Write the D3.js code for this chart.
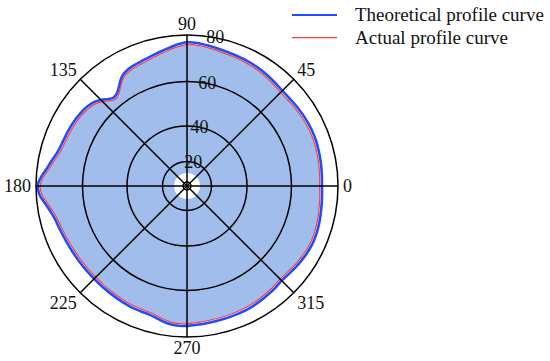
<!DOCTYPE html>
<html>
<head>
<meta charset="utf-8">
<title>Profile curve</title>
<script src="https://d3js.org/d3.v7.min.js"></script>
<style>
  body {margin: 0; background: #fff;}
  svg text {font-family: "Times New Roman", "Liberation Serif", serif; fill: #111;}
</style>
</head>
<body>
<script>
var angleTicks = [0, 45, 90, 135, 180, 225, 270, 315];
var radiusTicks = [20, 40, 60, 80];
var seriesNames = ["Theoretical profile curve", "Actual profile curve"];

// polar angle in degrees (counter-clockwise from 0 on the right)
var angles = [0, 5, 10, 15, 20, 25, 30, 35, 40, 45, 50, 55, 60, 65, 70, 75, 80, 85, 90, 95, 100, 105, 110, 115, 120,
  122, 124, 126, 128, 130, 132,
  135, 138, 142, 146, 150, 155, 160, 165, 170,
  173, 176, 178, 180, 182, 184, 186, 188, 191, 194, 199,
  205, 210, 215, 220, 225, 230, 235, 240, 245, 250,
  254, 257, 260, 264, 268, 270,
  275, 280, 285, 290, 295, 300, 305, 310, 315, 320, 325, 330, 335, 340, 345, 350, 355];

var theoretical = [73.10, 73.25, 73.48, 73.70, 73.88, 73.85, 73.65, 73.35, 73.05, 73.00, 73.45, 74.00, 74.45, 74.80, 75.04, 75.43, 76.00, 76.61, 76.87, 75.74, 74.26, 73.13, 72.17, 71.57, 70.22,
  68.87, 67.17, 65.65, 64.70, 64.52, 65.43,
  67.39, 68.96, 70.00, 70.61, 71.04, 71.39, 71.74, 72.52, 74.52,
  75.87, 77.65, 78.70, 79.26, 78.96, 78.35, 77.17, 76.00, 74.61, 73.61, 72.78,
  72.17, 71.83, 71.65, 71.52, 71.52, 71.65, 71.83, 72.09, 72.39, 72.52,
  72.70, 73.39, 74.22, 75.09, 75.30, 75.22,
  74.87, 74.52, 74.35, 74.26, 74.17, 73.91, 73.48, 73.13, 72.60, 73.00, 73.60, 74.10, 74.45, 74.40, 74.05, 73.65, 73.35];

var actual = [72.12, 72.27, 72.52, 72.74, 72.92, 72.90, 72.70, 72.40, 72.09, 72.04, 72.48, 73.04, 73.49, 73.84, 74.08, 74.47, 75.03, 75.64, 75.90, 74.78, 73.30, 72.17, 71.21, 70.60, 69.25,
  67.90, 66.20, 64.68, 63.74, 63.56, 64.47,
  66.42, 67.99, 69.03, 69.65, 70.08, 70.43, 70.78, 71.55, 73.55,
  74.90, 76.68, 77.73, 78.30, 77.99, 77.38, 76.20, 75.04, 73.65, 72.65, 71.82,
  71.21, 70.87, 70.69, 70.56, 70.56, 70.69, 70.87, 71.13, 71.43, 71.56,
  71.74, 72.43, 73.26, 74.13, 74.34, 74.27,
  73.91, 73.56, 73.39, 73.30, 73.21, 72.95, 72.52, 72.17, 71.64, 72.04, 72.64, 73.14, 73.49, 73.44, 73.09, 72.69, 72.39];

var width = 550, height = 361, cx = 187, cy = 186;

var svg = d3.select("body").append("svg")
    .attr("width", width)
    .attr("height", height);

var g = svg.append("g").attr("transform", "translate(" + cx + "," + cy + ")");

// radial scale (grid rings are not evenly spaced in the original)
var r = d3.scaleLinear().domain([0, 20, 40, 60, 80]).range([4, 24.5, 60, 104.5, 151]);
// d3 radial angle: 0 at top, clockwise
var a = d3.scaleLinear().domain([0, 360]).range([Math.PI / 2, Math.PI / 2 - 2 * Math.PI]);

var theoData = angles.map(function(d, i) { return {a: d, v: theoretical[i]}; });
var actData = angles.map(function(d, i) { return {a: d, v: actual[i]}; });

var line = d3.lineRadial()
    .angle(function(d) { return a(d.a); })
    .radius(function(d) { return r(d.v); })
    .curve(d3.curveCatmullRomClosed);

// filled area
g.append("path")
    .attr("d", line(actData))
    .attr("fill", "#a0bdeb")
    .attr("stroke", "none");

// white hole in the middle
g.append("circle").attr("r", 13).attr("fill", "#fff");

// curves
g.append("path")
    .attr("d", line(theoData))
    .attr("fill", "none")
    .attr("stroke", "#1f4cff")
    .attr("stroke-width", 2.6);

g.append("path")
    .attr("d", line(actData))
    .attr("fill", "none")
    .attr("stroke", "#ff3b3b")
    .attr("stroke-width", 1.2);

// grid circles
g.selectAll(".ring")
    .data([0].concat(radiusTicks))
    .enter().append("circle")
    .attr("class", "ring")
    .attr("r", function(d) { return r(d); })
    .attr("fill", "none")
    .attr("stroke", "#000")
    .attr("stroke-width", 1.5);

// spokes
g.selectAll(".spoke")
    .data(angleTicks)
    .enter().append("line")
    .attr("class", "spoke")
    .attr("x1", 0).attr("y1", 0)
    .attr("x2", function(d) { return r(80) * Math.sin(a(d)); })
    .attr("y2", function(d) { return -r(80) * Math.cos(a(d)); })
    .attr("stroke", "#000")
    .attr("stroke-width", 1.5);

// angle labels
var lr = r(80) + 5;
g.selectAll(".alabel")
    .data(angleTicks)
    .enter().append("text")
    .attr("class", "alabel")
    .attr("x", function(d) { return lr * Math.sin(a(d)); })
    .attr("y", function(d) { return -lr * Math.cos(a(d)); })
    .attr("text-anchor", function(d) {
        var c = Math.cos(d * Math.PI / 180);
        return c > 0.1 ? "start" : (c < -0.1 ? "end" : "middle");
    })
    .attr("dy", function(d) {
        var s = Math.sin(d * Math.PI / 180);
        return s > 0.1 ? "0em" : (s < -0.1 ? "0.68em" : "0.34em");
    })
    .style("font-size", "18px")
    .text(function(d) { return d; });

// radius labels
var la = 80 * Math.PI / 180;
g.selectAll(".rlabel")
    .data(radiusTicks)
    .enter().append("text")
    .attr("class", "rlabel")
    .attr("x", function(d) { return r(d) * Math.cos(la) + 2; })
    .attr("y", function(d) { return -r(d) * Math.sin(la); })
    .attr("dy", "0.34em")
    .attr("text-anchor", "middle")
    .style("font-size", "18px")
    .text(function(d) { return d; });

// legend
var legend = svg.append("g").attr("transform", "translate(292,15)");
var colors = ["#1f4cff", "#ff3b3b"];
var widths = [2.2, 1.2];
seriesNames.forEach(function(name, i) {
    var row = legend.append("g").attr("transform", "translate(0," + (i * 22.7) + ")");
    row.append("line")
        .attr("x1", 0).attr("x2", 45)
        .attr("y1", 0).attr("y2", 0)
        .attr("stroke", colors[i])
        .attr("stroke-width", widths[i]);
    row.append("text")
        .attr("x", 63)
        .attr("y", 6)
        .style("font-size", "19px")
        .text(name);
});
</script>
</body>
</html>
